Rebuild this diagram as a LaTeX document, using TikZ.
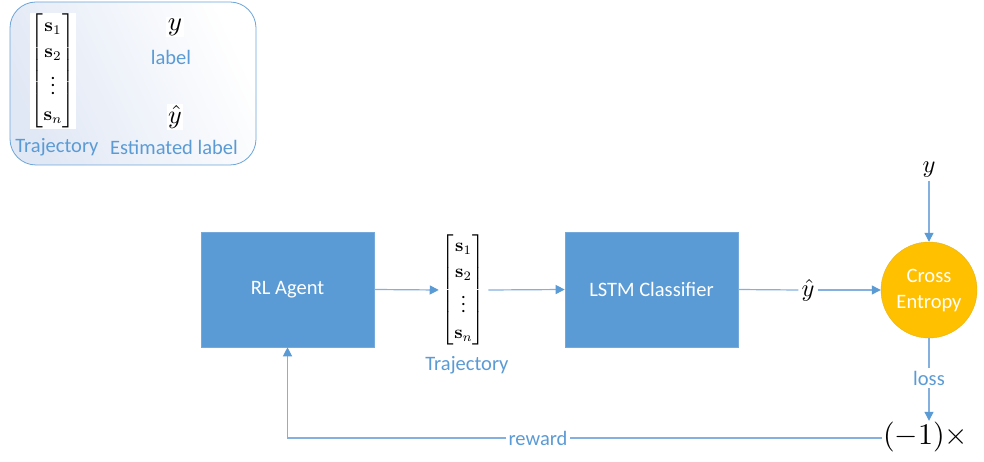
\documentclass[tikz,border=0pt]{standalone}
\usepackage{amsmath}
\usepackage{graphicx}
\usepackage[no-math]{fontspec}
\setmainfont{Carlito}
\usetikzlibrary{arrows.meta,shapes.geometric}
\definecolor{boxblue}{HTML}{5B9BD5}
\definecolor{lineblue}{HTML}{84B0E0}
\definecolor{tipblue}{HTML}{5B9BD5}
\definecolor{textblue}{HTML}{5B9BD5}
\definecolor{ceorange}{HTML}{FFC000}
\definecolor{legbg}{HTML}{E1E8F5}
\newcommand{\trajmat}[1]{\scalebox{#1}{\fontsize{10}{12}\selectfont\(\renewcommand{\arraystretch}{1.15}\setlength{\arraycolsep}{1.3pt}\begin{bmatrix}\mathbf{s}_1\\ \mathbf{s}_2\\ \vdots\\ \mathbf{s}_n\end{bmatrix}\)}}
\newcommand{\bigmath}[2]{\scalebox{#1}{\fontsize{10}{12}\selectfont\(#2\)}}
\tikzset{
  txt/.style={font=\fontsize{20.5}{24}\selectfont, inner sep=1pt},
  bluetxt/.style={txt, text=textblue},
  blockbox/.style={rectangle, fill=boxblue, draw=boxblue!85!white, line width=0.6pt,
     minimum width=173pt, minimum height=115pt, text=white,
     font=\fontsize{20.5}{24}\selectfont},
  cebox/.style={circle, fill=ceorange, draw=ceorange!80!gray, line width=0.4pt,
     minimum size=96pt, inner sep=0pt, text=white, align=center,
     font=\fontsize{20.5}{26}\selectfont},
  matnode/.style={font=\fontsize{10}{12}\selectfont, inner sep=1.5pt, fill=white},
  conn/.style={draw=lineblue, line width=1.2pt},
  arr/.style={conn, -{Triangle[length=9pt,width=9pt,color=tipblue]}},
}
\begin{document}
\begin{tikzpicture}[x=1pt,y=-1pt]
\useasboundingbox (0,0) rectangle (984,462);
\fill[white] (0,0) rectangle (984,462);

% legend
\shade[left color=legbg, right color=white, shading angle=115, rounded corners=26pt]
  (10,2) rectangle (256,165);
\draw[draw=textblue!90!white, line width=0.8pt, rounded corners=26pt]
  (10,2) rectangle (256,165);
\node[matnode, inner sep=0.5pt] (legmat) at (53,71) {\trajmat{1.9}};
\node[matnode] (legy) at (175,27) {\bigmath{2.7}{y}};
\node[bluetxt] (leglabel) at (171,57) {label};
\node[matnode] (legyhat) at (175,117) {\bigmath{2.6}{\hat{y}}};
\node[bluetxt] (legtraj) at (57,147) {Trajectory};
\node[bluetxt] (legest) at (174,147) {Estimated label};

% main nodes
\node[blockbox] (rl) at (287.5,289.5) {RL Agent};
\node[matnode, inner sep=3pt] (traj) at (463.5,290) {\trajmat{1.85}};
\node[bluetxt] (trajlab) at (467,365) {Trajectory};
\node[blockbox] (lstm) at (651.5,289.5) {LSTM Classifier};
\node[matnode, inner sep=3pt] (yhat) at (808,290) {\bigmath{2.45}{\hat{y}}};
\node[cebox] (ce) at (929,290) {Cross\\Entropy};
\node[matnode, inner sep=3pt] (ytop) at (929,170) {\bigmath{2.45}{y}};
\node[bluetxt, inner sep=3pt] (loss) at (929,378) {loss};
\node[matnode, fill=none, inner sep=1pt] (neg) at (925.5,437) {\bigmath{3}{(-1)\times}};
\node[bluetxt, inner sep=2pt] (reward) at (538,438) {reward};
\coordinate (corner) at (rl.south |- reward.west);

% connectors
\draw[arr] (rl.east) -- (traj.west);
\draw[arr] (traj.east) -- (lstm.west);
\draw[conn] (lstm.east) -- (yhat.west);
\draw[arr] (yhat.east) -- (ce.west);
\draw[arr] (ytop.south) -- (ce.north);
\draw[conn] (ce.south) -- (loss.north);
\draw[arr] (loss.south) -- (neg.north -| loss.south);
\draw[conn] (neg.west |- reward.east) -- (reward.east);
\draw[arr] (reward.west) -- (corner) -- (rl.south);
\end{tikzpicture}
\end{document}
